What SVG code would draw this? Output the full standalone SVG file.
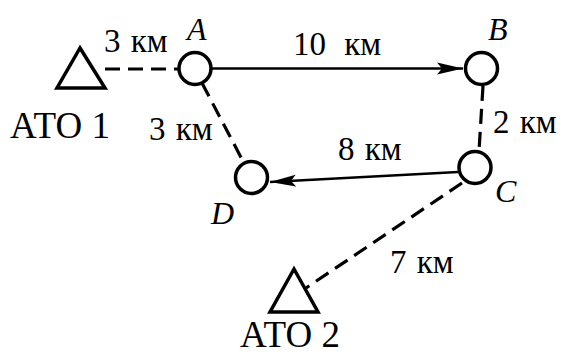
<svg xmlns="http://www.w3.org/2000/svg" width="566" height="356" viewBox="0 0 566 356">
<defs>
<style>
text{font-family:"Liberation Serif","Times New Roman",serif;fill:#000}
.lbl{font-size:33px;word-spacing:2px}
.ato{font-size:37px}
.nm{font-size:32px;font-style:italic}
.node{fill:#fff;stroke:#000;stroke-width:3.5}
.dash{stroke:#000;stroke-width:3.2;stroke-dasharray:15 8;fill:none}
.solid{stroke:#000;stroke-width:2.6;fill:none}
</style>
<marker id="arr" markerUnits="userSpaceOnUse" markerWidth="28" markerHeight="14" refX="26" refY="6.5" orient="auto">
<path d="M0,0.5 L26,6.5 L0,12.5 L5,6.5 z" fill="#000"/>
</marker>
</defs>
<rect width="566" height="356" fill="#fff"/>
<g id="connectors">
<line class="dash" x1="105" y1="69" x2="180" y2="69"/>
<line class="dash" x1="202" y1="83" x2="245" y2="165"/>
<line class="solid" x1="211" y1="68.5" x2="463" y2="68.5" marker-end="url(#arr)"/>
<line class="dash" x1="483" y1="86" x2="479" y2="151"/>
<line class="solid" x1="458" y1="172" x2="270" y2="182" marker-end="url(#arr)"/>
<line class="dash" x1="462" y1="183" x2="306" y2="288"/>
</g>
<g id="ATO1">
<polygon class="node" points="80,48 57,88 105,88"/>
<text class="ato" x="10" y="138">АТО 1</text>
</g>
<g id="ATO2">
<polygon class="node" points="294,269 270,312 318,312"/>
<text class="ato" x="240" y="347">АТО 2</text>
</g>
<g id="A">
<circle class="node" cx="195" cy="68.5" r="16"/>
<text class="nm" x="187" y="40">A</text>
</g>
<g id="B">
<circle class="node" cx="481.5" cy="68.5" r="16"/>
<text class="nm" x="488" y="40">B</text>
</g>
<g id="C">
<circle class="node" cx="475" cy="167.5" r="16"/>
<text class="nm" x="495" y="202">C</text>
</g>
<g id="D">
<circle class="node" cx="251.5" cy="177.5" r="16"/>
<text class="nm" x="211" y="224">D</text>
</g>
<g id="labels">
<text class="lbl" x="104" y="52">3 км</text>
<text class="lbl" x="149" y="140">3 км</text>
<text class="lbl" x="293" y="55" style="word-spacing:10px">10 км</text>
<text class="lbl" x="493" y="133">2 км</text>
<text class="lbl" x="338" y="160">8 км</text>
<text class="lbl" x="390" y="273">7 км</text>
</g>
</svg>
